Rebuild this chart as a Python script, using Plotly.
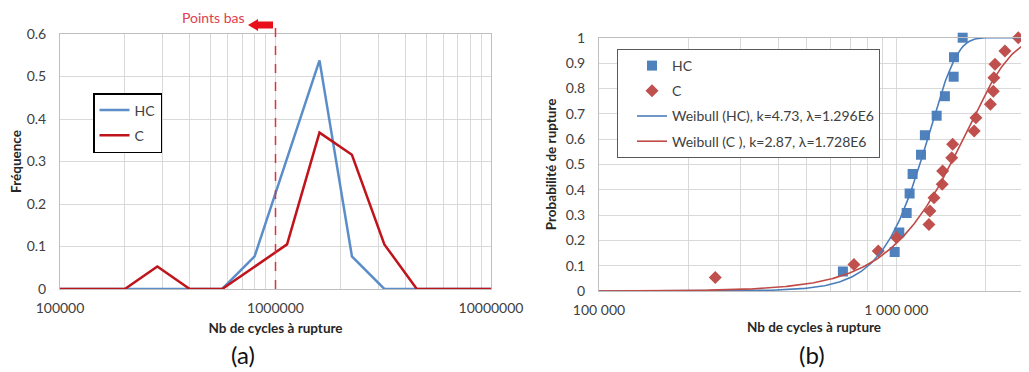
import numpy as np
import plotly.graph_objects as go

# page body has an 8px default margin; figure sized to fit the 1029x372 window
OFF = 8
W, H = 1029 - OFF, 372 - OFF

# ---------------- data (a) histogram ----------------
bins_a = [100000, 141421, 200000, 282843, 400000, 565685, 800000, 1131371,
          1600000, 2262742, 3200000, 4525483, 6400000, 9050967, 12800000]
freq_hc = [0, 0, 0, 0, 0, 0, 0.077, 0.308, 0.538, 0.077, 0, 0, 0, 0, 0]
freq_c = [0, 0, 0, 0.053, 0, 0, 0.053, 0.105, 0.368, 0.316, 0.105, 0, 0, 0, 0]

ticks_a = [100000, 1000000, 10000000]
ticktext_a = ["100000", "1000000", "10000000"]

# ---------------- data (b) Weibull ----------------
cyc_hc = [661000, 987000, 1023000, 1083000, 1108000, 1134000, 1210000, 1247000,
          1366000, 1456000, 1558000, 1562000, 1671000]
prob_hc = [0.077, 0.154, 0.231, 0.308, 0.385, 0.462, 0.538, 0.615,
           0.692, 0.769, 0.846, 0.923, 1.0]
cyc_c = [246000, 720000, 869000, 1000000, 1287000, 1297000, 1338000, 1426000,
         1431000, 1535000, 1546000, 1827000, 1852000, 2071000, 2118000, 2128000,
         2146000, 2318000, 2570000]
prob_c = [0.053, 0.105, 0.158, 0.211, 0.263, 0.316, 0.368, 0.421, 0.474, 0.526,
          0.579, 0.632, 0.684, 0.737, 0.789, 0.842, 0.895, 0.947, 1.0]

k_hc, lam_hc = 4.73, 1.296e6
k_c, lam_c = 2.87, 1.728e6

ticks_b = [100000, 1000000]
ticktext_b = ["100 000", "1 000 000"]

# fitted Weibull CDF curves from the parameters shown in the legend
xfit = np.logspace(5, 6.5, 300)
fit_hc = 1 - np.exp(-(xfit / lam_hc) ** k_hc)
fit_c = 1 - np.exp(-(xfit / lam_c) ** k_c)

FONT = "Lato"
TXT = "#404040"
GRID = "#d9d9d9"
AXL = "#bfbfbf"

def px(x):
    return (x - OFF) / W

def py(y):
    return 1 - (y - OFF) / H

fig = go.Figure()

# (a)
fig.add_trace(go.Scatter(x=bins_a, y=freq_hc, mode="lines", name="HC",
                         line=dict(color="#5b8dc9", width=2.5),
                         xaxis="x", yaxis="y", legend="legend", legendgroup="a1"))
fig.add_trace(go.Scatter(x=bins_a, y=freq_c, mode="lines", name="C",
                         line=dict(color="#c0141c", width=2.5),
                         xaxis="x", yaxis="y", legend="legend", legendgroup="a2"))

# (b)
fig.add_trace(go.Scatter(x=cyc_hc, y=prob_hc, mode="markers", name="HC",
                         marker=dict(symbol="square", size=10, color="#4f81bd"),
                         xaxis="x2", yaxis="y2", legend="legend2", legendgroup="b1",
                         cliponaxis=False))
fig.add_trace(go.Scatter(x=cyc_c, y=prob_c, mode="markers", name="C",
                         marker=dict(symbol="diamond", size=10, color="#c0504d"),
                         xaxis="x2", yaxis="y2", legend="legend2", legendgroup="b2",
                         cliponaxis=False))
fig.add_trace(go.Scatter(x=xfit, y=fit_hc, mode="lines",
                         name="Weibull (HC), k=4.73, λ=1.296E6",
                         line=dict(color="#4a7ebb", width=1.6),
                         xaxis="x2", yaxis="y2", legend="legend2", legendgroup="b3"))
fig.add_trace(go.Scatter(x=xfit, y=fit_c, mode="lines",
                         name="Weibull (C ), k=2.87, λ=1.728E6",
                         line=dict(color="#be4b48", width=1.6),
                         xaxis="x2", yaxis="y2", legend="legend2", legendgroup="b4"))

tickfont = dict(family=FONT, size=14, color=TXT)
titlefont = dict(family=FONT, size=13.5, color="#262626", weight="bold")

common_x = dict(type="log", showgrid=True, gridcolor=GRID, gridwidth=1,
                minor=dict(showgrid=True, gridcolor=GRID, dtick="D1"),
                showline=True, linecolor=AXL, mirror=True, ticks="",
                tickfont=tickfont, ticklabelstandoff=6, zeroline=False,
                automargin=False)
common_y = dict(showgrid=True, gridcolor=GRID, dtick=0.1, ticks="",
                showline=True, linecolor=AXL, mirror=True,
                tickfont=tickfont, ticklabelstandoff=10, zeroline=False,
                automargin=False)

fig.update_layout(
    width=W, height=H,
    margin=dict(l=0, r=0, t=0, b=0),
    paper_bgcolor="white", plot_bgcolor="white",
    font=dict(family=FONT, color=TXT),
    xaxis=dict(common_x, domain=[px(60), px(491)], anchor="y", range=[5, 7],
               tickvals=ticks_a, ticktext=ticktext_a,
               title=dict(text="Nb de cycles à rupture", font=titlefont, standoff=8)),
    yaxis=dict(common_y, domain=[py(289), py(34)], anchor="x", range=[0, 0.6],
               title=dict(text="Fréquence", font=titlefont, standoff=5)),
    xaxis2=dict(common_x, domain=[px(599), 1.0], anchor="y2", range=[5, 6.446],
                tickvals=ticks_b, ticktext=ticktext_b,
                title=dict(text="Nb de cycles à rupture", font=titlefont, standoff=5)),
    yaxis2=dict(common_y, domain=[py(291), py(37.7)], anchor="x2", range=[0, 1],
                title=dict(text="Probabilité de rupture", font=titlefont, standoff=5)),
    legend=dict(x=px(93), y=py(93), xanchor="left", yanchor="top",
                bgcolor="white", bordercolor="#000000", borderwidth=1.5,
                font=dict(family=FONT, size=14, color=TXT),
                traceorder="grouped", tracegroupgap=4, itemwidth=30, indentation=0),
    legend2=dict(x=px(617), y=py(49), xanchor="left", yanchor="top",
                 bgcolor="white", bordercolor="#595959", borderwidth=1,
                 font=dict(family=FONT, size=14, color=TXT),
                 traceorder="grouped", tracegroupgap=4, itemwidth=30, indentation=14),
    showlegend=True,
)

# dashed "low points" line at 1e6 on chart (a), arrow and label
fig.add_shape(type="line", xref="x domain", yref="y domain",
              x0=0.5, x1=0.5, y0=0, y1=(289 - 25) / (289 - 34),
              line=dict(color="#e0303a", width=1.5, dash="dash"))

ax_pts = [(248, 25), (258, 19), (258, 21.5), (273, 21.5), (273, 28.5),
          (258, 28.5), (258, 31)]
path = "M " + " L ".join(f"{px(a):.5f},{py(b):.5f}" for a, b in ax_pts) + " Z"
fig.add_shape(type="path", xref="paper", yref="paper", path=path,
              fillcolor="#e8101a", line=dict(width=0))

fig.add_annotation(x=px(247), y=py(17), xref="paper", yref="paper",
                   text="Points bas", showarrow=False, xanchor="right",
                   yanchor="middle",
                   font=dict(family=FONT, size=14, color="#e0404f"))

fig.add_annotation(x=px(243), y=py(354), xref="paper", yref="paper",
                   text="(a)", showarrow=False, xanchor="center", yanchor="middle",
                   font=dict(family=FONT, size=24, color="#111111"))
fig.add_annotation(x=px(812), y=py(354), xref="paper", yref="paper",
                   text="(b)", showarrow=False, xanchor="center", yanchor="middle",
                   font=dict(family=FONT, size=24, color="#111111"))

fig.write_html("out.html")
